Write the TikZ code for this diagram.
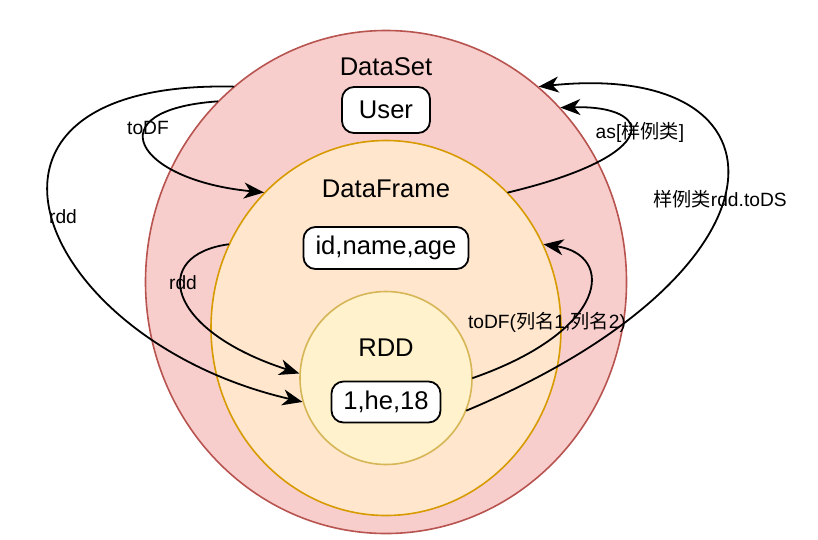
\documentclass[tikz,border=0pt]{standalone}
\usepackage{fontspec}
\setmainfont{Liberation Sans}
\newfontfamily\cjk{Noto Sans CJK SC}
\usetikzlibrary{shapes.geometric,arrows.meta}
\definecolor{dsfill}{HTML}{F8CECC}
\definecolor{dsline}{HTML}{B85450}
\definecolor{dffill}{HTML}{FFE6CC}
\definecolor{dfline}{HTML}{D79B00}
\definecolor{rddfill}{HTML}{FFF2CC}
\definecolor{rddline}{HTML}{D6B656}
\begin{document}
\begin{tikzpicture}[x=1pt,y=-1pt,line join=round,line cap=round,
	>={Stealth[length=20pt,width=16pt,inset=6pt]},
	ring/.style={ellipse,line width=1.6pt,inner sep=0},
	rec/.style={draw,rounded corners=12pt,line width=1.8pt,fill=white,inner sep=0,font=\fontsize{25.6}{30}\selectfont},
	ttl/.style={font=\fontsize{25.6}{30}\selectfont,inner sep=0},
	lbl/.style={font=\fontsize{19.2}{23}\selectfont,inner sep=0},
	conv/.style={->,line width=1.8pt}]
	\useasboundingbox (0,0) rectangle (818,539);
	%Ba vòng tròn lồng nhau
	\node[ring,draw=dsline,fill=dsfill,minimum width=481pt,minimum height=503pt] (ds) at (386,282) {};
	\node[ring,draw=dfline,fill=dffill,minimum width=350pt,minimum height=375pt] (df) at (386,328) {};
	\node[ring,draw=rddline,fill=rddfill,minimum width=172pt,minimum height=173pt] (rdd) at (386,378) {};
	%Tên và dữ liệu
	\node[ttl] (dsname) at (386,67) {DataSet};
	\node[ttl] (dfname) at (386,189) {DataFrame};
	\node[ttl] (rddname) at (386,348) {RDD};
	\node[rec,minimum width=88pt,minimum height=46pt] (user) at (386,110) {User};
	\node[rec,minimum width=165pt,minimum height=42pt] (cols) at (386,248) {id,name,age};
	\node[rec,minimum width=109pt,minimum height=41pt] (row) at (386,402) {1,he,18};
	%Các mũi tên chuyển đổi
	\draw[conv] (ds.133) .. controls (95,110) and (135,180) .. (df.132);
	\draw[conv] (ds.128) .. controls (-72,80) and (35,340) .. (rdd.196);
	\draw[conv] (df.152) .. controls (150,255) and (165,330) .. (rdd.177);
	\draw[conv] (df.48) .. controls (665,155) and (655,105) .. (ds.45);
	\draw[conv] (rdd.338) .. controls (802,270) and (798,60) .. (ds.52);
	\draw[conv] (rdd.0) .. controls (610,330) and (615,255) .. (df.28);
	%Nhãn
	\node[lbl] (l1) at (148,128) {toDF};
	\node[lbl] (l2) at (63,217) {rdd};
	\node[lbl] (l3) at (183,283) {rdd};
	\node[lbl] (l4) at (640,132) {as[{\cjk 样例类}]};
	\node[lbl] (l5) at (720,199) {{\cjk 样例类}rdd.toDS};
	\node[lbl] (l6) at (547,322) {toDF({\cjk 列名}1,{\cjk 列名}2)};
\end{tikzpicture}
\end{document}
